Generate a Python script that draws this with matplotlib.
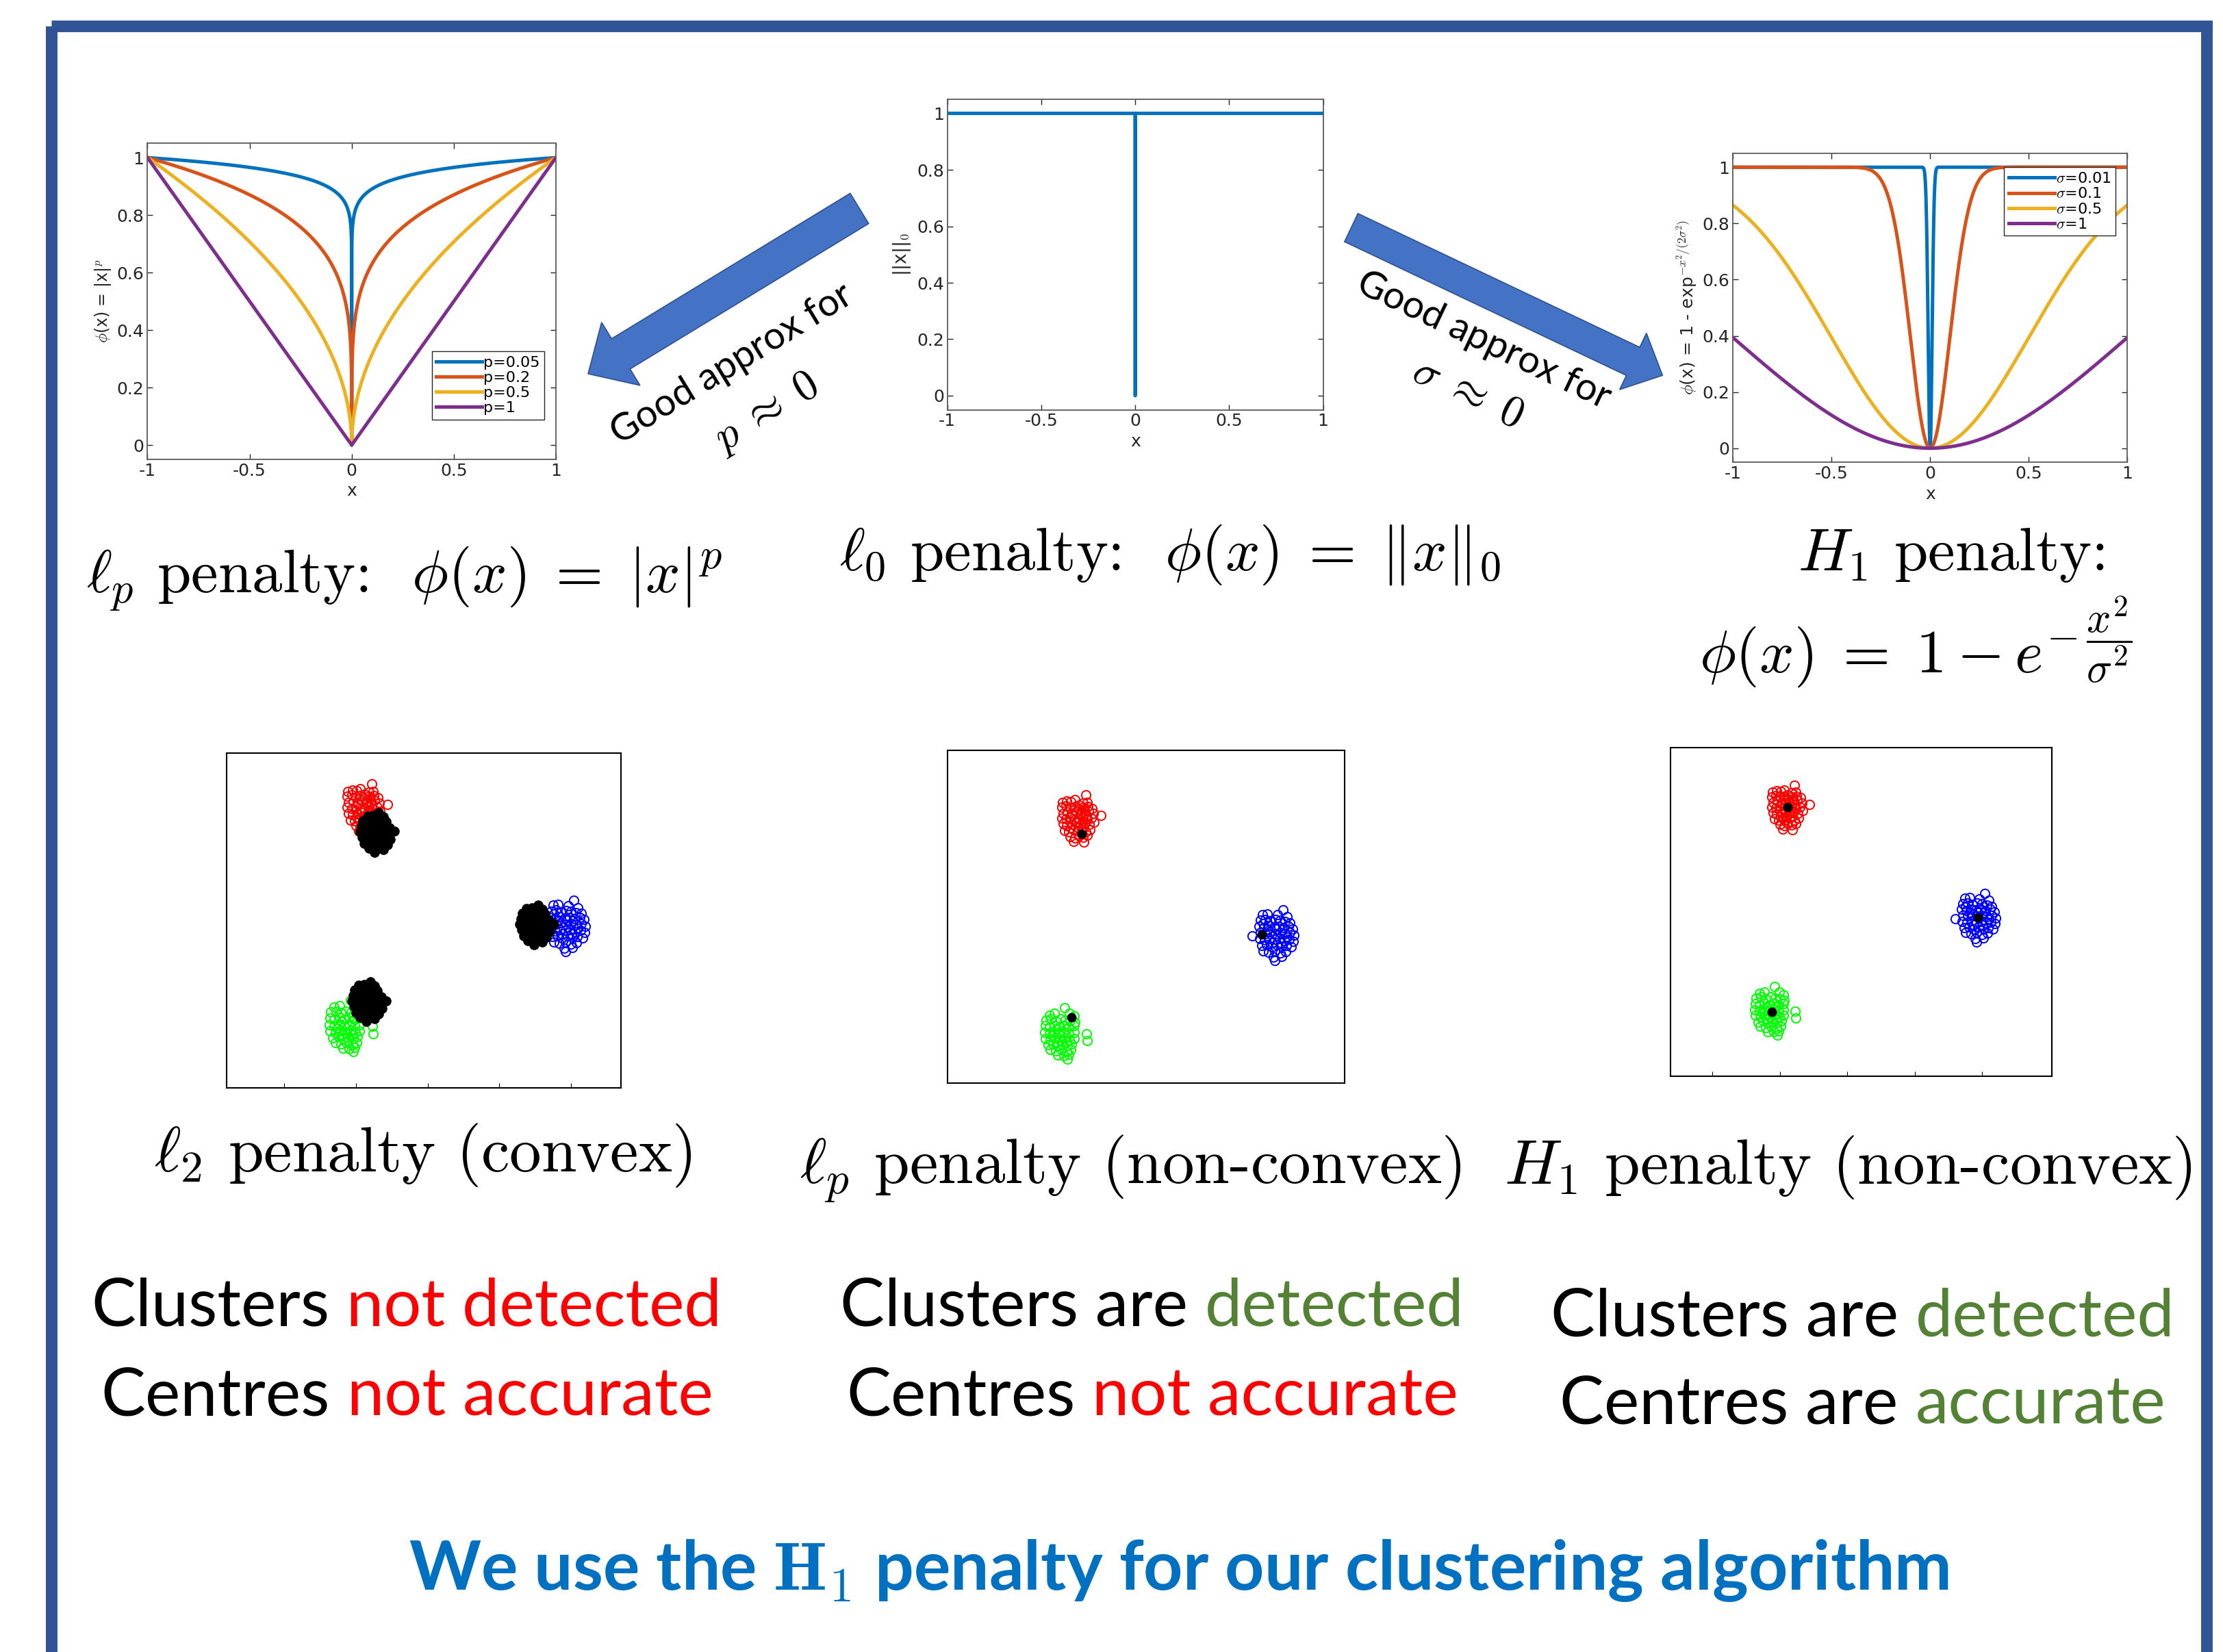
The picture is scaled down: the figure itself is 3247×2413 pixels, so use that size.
import numpy as np
import matplotlib
matplotlib.use('Agg')
import matplotlib.pyplot as plt
from matplotlib.patches import FancyArrow, Rectangle

plt.rcParams['mathtext.fontset'] = 'cm'

# --- penalty curves -------------------------------------------------------
p_values = [0.05, 0.2, 0.5, 1]
sigma_values = [0.01, 0.1, 0.5, 1]
line_colors = ['#0072BD', '#D95319', '#EDB120', '#7E2F8E']
tick_x = [-1, -0.5, 0, 0.5, 1]
tick_x_labels = ['-1', '-0.5', '0', '0.5', '1']
tick_y = [0, 0.2, 0.4, 0.6, 0.8, 1]
tick_y_labels = ['0', '0.2', '0.4', '0.6', '0.8', '1']

# --- synthetic clusters (offsets around each cluster centre) -------------
red_centre = (-4.4, 9.0)
blue_centre = (9.7, -0.7)
green_centre = (-5.6, -9.0)

red_offsets = [
    (0.5, 1.95), (-1.15, 1.35), (-0.85, 1.45), (-0.55, 1.4), (-0.3, 1.55), (0.3, 1.3), (0.6, 1.35),
    (-1.2, 0.95), (-0.9, 1.05), (-0.6, 0.9), (-0.3, 1.0), (0.0, 1.1), (0.3, 0.95), (0.65, 1.0), (0.95, 0.85),
    (-1.1, 0.45), (-0.8, 0.55), (-0.5, 0.4), (-0.2, 0.6), (0.1, 0.5), (0.4, 0.45), (0.7, 0.6), (1.05, 0.4),
    (-1.2, 0.05), (-0.9, -0.05), (-0.6, 0.1), (-0.3, -0.1), (0.0, 0.0), (0.3, 0.1), (0.6, -0.05), (0.9, 0.05),
    (1.6, 0.25), (-1.1, -0.45), (-0.85, -0.6), (-0.5, -0.5), (-0.2, -0.4), (0.1, -0.55), (0.4, -0.45),
    (0.75, -0.5), (1.1, -0.3), (-1.0, -1.0), (-0.7, -1.1), (-0.4, -0.95), (-0.1, -1.05), (0.2, -0.9),
    (0.5, -1.1), (0.8, -0.95), (-0.6, -1.5), (-0.3, -1.6), (0.0, -1.45), (0.3, -1.55), (0.6, -1.4),
    (-0.4, -1.9), (0.35, -1.95), (-0.45, 0.25), (0.15, 0.3), (0.5, 0.2), (-0.15, -0.25), (0.25, -0.3),
    (-0.6, -0.25), (0.0, 0.75), (-0.35, 0.7), (0.4, 0.75), (-0.05, -0.75), (0.35, -0.75), (-0.55, -0.8),
]
blue_offsets = [
    (0.5, 2.1), (-0.95, 1.7), (-0.6, 1.75), (0.1, 1.65), (0.8, 1.5),
    (-1.1, 1.2), (-0.75, 1.3), (-0.4, 1.15), (-0.05, 1.25), (0.3, 1.2), (0.65, 1.1), (1.0, 1.0),
    (-1.2, 0.7), (-0.85, 0.6), (-0.5, 0.75), (-0.15, 0.65), (0.2, 0.7), (0.55, 0.6), (0.9, 0.7), (1.2, 0.5),
    (-1.7, -0.1), (-1.1, 0.2), (-0.75, 0.1), (-0.4, 0.25), (-0.05, 0.1), (0.3, 0.2), (0.65, 0.05),
    (1.0, 0.2), (1.3, -0.05), (-1.15, -0.35), (-0.8, -0.45), (-0.45, -0.3), (-0.1, -0.4), (0.25, -0.35),
    (0.6, -0.5), (0.95, -0.4), (1.25, -0.55), (-1.0, -0.9), (-0.65, -0.85), (-0.3, -1.0), (0.05, -0.85),
    (0.4, -0.95), (0.75, -0.9), (1.1, -1.0), (-0.9, -1.35), (-0.5, -1.45), (-0.1, -1.35), (0.3, -1.5),
    (0.7, -1.4), (-0.2, -1.85), (0.4, -1.8), (-0.1, -2.15), (-0.6, 0.45), (0.0, 0.45), (0.45, 0.4),
    (-0.3, -0.65), (0.35, -0.65), (0.8, -0.2), (-0.9, 0.95),
]
green_offsets = [
    (0.2, 2.2), (-0.9, 1.6), (-0.55, 1.75), (0.55, 1.75), (0.85, 1.5),
    (-1.15, 1.2), (-0.8, 1.3), (-0.45, 1.15), (-0.1, 1.3), (0.25, 1.2), (0.6, 1.1), (0.9, 1.0),
    (-1.2, 0.7), (-0.9, 0.6), (-0.55, 0.75), (-0.2, 0.6), (0.15, 0.75), (0.5, 0.6), (0.85, 0.7),
    (-1.25, 0.15), (-0.9, 0.05), (-0.55, 0.2), (-0.2, 0.05), (0.15, 0.2), (0.5, 0.05), (0.85, 0.15),
    (1.75, 0.05), (-1.2, -0.35), (-0.85, -0.45), (-0.5, -0.3), (-0.15, -0.45), (0.2, -0.3), (0.55, -0.45),
    (0.85, -0.35), (1.8, -0.55), (-1.0, -0.9), (-0.65, -0.8), (-0.3, -0.95), (0.05, -0.85), (0.4, -0.95),
    (0.7, -0.8), (-0.85, -1.3), (-0.45, -1.4), (-0.05, -1.3), (0.35, -1.45), (0.65, -1.3),
    (-0.3, -1.75), (0.15, -1.8), (0.5, -1.7), (0.4, -2.05), (-0.4, 0.45), (0.3, 0.45), (-0.7, -0.1),
    (0.0, -0.6), (0.35, -0.65), (-0.35, -0.65),
]
# l2 fit: every point is pulled towards a shrunk centre
l2_offsets = [
    (0.2, 1.6), (-0.6, 1.3), (-0.2, 1.35), (0.5, 1.25),
    (-0.9, 0.9), (-0.5, 0.95), (-0.1, 0.85), (0.3, 0.95), (0.7, 0.85),
    (-1.0, 0.45), (-0.6, 0.4), (-0.2, 0.5), (0.2, 0.4), (0.6, 0.5), (0.95, 0.35),
    (-1.1, 0.0), (-0.7, -0.05), (-0.3, 0.05), (0.1, -0.05), (0.5, 0.05), (0.9, -0.1), (1.3, 0.05),
    (-0.95, -0.45), (-0.55, -0.5), (-0.15, -0.4), (0.25, -0.5), (0.65, -0.45), (1.0, -0.6),
    (-0.8, -0.95), (-0.4, -0.9), (0.0, -1.0), (0.4, -0.9), (0.8, -1.05),
    (-0.5, -1.35), (0.1, -1.4), (0.5, -1.45), (-0.1, -1.65),
]
l2_centres = [(-3.6, 7.0), (7.5, -0.6), (-4.2, -6.9)]
lp_centres = [(-4.2, 7.7), (8.7, -0.7), (-4.9, -7.6)]
h1_centres = [red_centre, blue_centre, green_centre]

W, H = 1568.0, 1165.0   # layout grid for placing panels and text


def rect(l, t, r, b):
    return [l / W, 1 - b / H, (r - l) / W, (b - t) / H]


def matlab_style(ax, fs=18):
    ax.set_xlim(-1, 1)
    ax.set_ylim(-0.05, 1.05)
    ax.set_xticks(tick_x)
    ax.set_xticklabels(tick_x_labels)
    ax.set_yticks(tick_y)
    ax.set_yticklabels(tick_y_labels)
    ax.tick_params(direction='in', top=True, right=True, length=6, width=1,
                   labelsize=fs, colors='#262626', labelcolor='#262626')
    for s in ax.spines.values():
        s.set_color('#5a5a5a')
        s.set_linewidth(1.3)
    ax.set_xlabel('x', fontsize=18, color='#262626')


fig = plt.figure(figsize=(32.48, 24.13), dpi=100)
bg = fig.add_axes([0, 0, 1, 1])
bg.set_xlim(0, W)
bg.set_ylim(H, 0)
bg.axis('off')

bg.add_patch(Rectangle((36, 18.5), 1520, 1200, fill=False, lw=12.2,
                       edgecolor='#2F5597'))

x = np.linspace(-1, 1, 4001)
leg_kw = dict(fontsize=16, handlelength=3, handletextpad=0.1, labelspacing=0.1,
              borderpad=0.3, fancybox=False, framealpha=1, edgecolor='#262626',
              borderaxespad=0)

# l_p penalty
ax = fig.add_axes(rect(104, 101, 392, 324))
for p, c in zip(p_values, line_colors):
    ax.plot(x, np.abs(x) ** p, color=c, lw=3.6, label='p=%g' % p)
matlab_style(ax)
ax.set_ylabel(r'$\phi$(x) = |x|$^p$', fontsize=17, color='#262626')
ax.legend(loc='lower right', bbox_to_anchor=(0.972, 0.126), **leg_kw)

# l_0 penalty
ax = fig.add_axes(rect(668, 70, 933, 289))
ax.plot(x, (x != 0).astype(float), color=line_colors[0], lw=3.6)
matlab_style(ax)
ax.set_ylabel(r'||x||$_0$', fontsize=19, color='#262626')

# H_1 penalty
ax = fig.add_axes(rect(1222, 108, 1500, 326))
for s, c in zip(sigma_values, line_colors):
    ax.plot(x, 1 - np.exp(-x ** 2 / (2 * s ** 2)), color=c, lw=3.6,
            label=r'$\sigma$=%g' % s)
matlab_style(ax)
ax.set_ylabel(r'$\phi$(x) = 1 - exp$^{-x^2/(2\sigma^2)}$', fontsize=18,
              color='#262626')
ax.legend(loc='upper right', bbox_to_anchor=(0.971, 0.954), **leg_kw)

# arrows between the penalty plots
arrow_kw = dict(length_includes_head=True, facecolor='#4472C4',
                edgecolor='#2F528F', lw=1.2)
bg.add_patch(FancyArrow(606, 147, -191.3, 116.6, width=25, head_width=52,
                        head_length=27, **arrow_kw))
bg.add_patch(FancyArrow(952.8, 160.5, 219.5, 104.2, width=22, head_width=44,
                        head_length=23, **arrow_kw))
bg.text(516, 257, 'Good approx for', rotation=31.4, fontsize=40,
        family='Lato', ha='center', va='center', rotation_mode='anchor')
bg.text(540, 291, r'$p\;\approx\;0$', rotation=31.4, fontsize=46,
        ha='center', va='center', rotation_mode='anchor')
bg.text(1046, 240, 'Good approx for', rotation=-25.4, fontsize=40,
        family='Lato', ha='center', va='center', rotation_mode='anchor')
bg.text(1035, 277, r'$\sigma\;\approx\;0$', rotation=-25.4, fontsize=46,
        ha='center', va='center', rotation_mode='anchor')

# formulas
big = dict(fontsize=64, family='cmr10', va='baseline')
eq = r'\;=\;'
bg.text(285, 418, r'$\ell_p$ penalty:  $\phi(x)' + eq + r'|x|^p$', ha='center', **big)
bg.text(825, 402, r'$\ell_0$ penalty:  $\phi(x)' + eq + r'\|x\|_0$', ha='center', **big)
bg.text(1376, 402, r'$H_1$ penalty:', ha='center', **big)
bg.text(1351, 474, r'$\phi(x)' + eq + r'1 - e^{-\,\dfrac{x^2}{\sigma^2}}$',
        ha='center', **big)

# cluster results
panels = [
    (rect(160, 531, 438, 767), (-14, 13.5), (-14, 13.5), True),
    (rect(668, 529, 948, 764), (-13.8, 14.6), (-13.1, 14.7), False),
    (rect(1178, 527, 1447, 759), (-13.1, 15.2), (-14.7, 14.3), True),
]
clusters = [(red_centre, red_offsets, '#FF0000'),
            (blue_centre, blue_offsets, '#0000FF'),
            (green_centre, green_offsets, '#00FF00')]

for k, (box, xl, yl, ticks) in enumerate(panels):
    ax = fig.add_axes(box)
    for (cx, cy), offs, col in clusters:
        dx, dy = np.array(offs).T
        ax.plot(cx + dx, cy + dy, 'o', ms=9.5, mfc='none', mec=col, mew=1.4)
    if k == 0:
        bx, by = np.array(l2_offsets).T
        for cx, cy in l2_centres:
            ax.plot(cx + bx, cy + by, 'o', ms=9.5, color='black')
    else:
        cen = lp_centres if k == 1 else h1_centres
        cx, cy = np.array(cen).T
        ax.plot(cx, cy, 'o', ms=9, color='black')
    ax.set_xlim(*xl)
    ax.set_ylim(*yl)
    ax.set_yticks([])
    if ticks:
        ax.set_xticks([-10, -5, 0, 5, 10])
        ax.tick_params(axis='x', direction='in', length=5, labelbottom=False)
    else:
        ax.set_xticks([])
    for s in ax.spines.values():
        s.set_linewidth(1.5)

cap = dict(fontsize=67, family='cmr10', va='baseline', ha='center')
bg.text(298, 826, r'$\ell_2$ penalty (convex)', **cap)
bg.text(797, 835, r'$\ell_p$ penalty (non-convex)', **cap)
bg.text(1303, 835, r'$H_1$ penalty (non-convex)', **cap)

# verdict lines, second half coloured
RED, GREEN = '#FF0000', '#548235'
verdicts = [
    (286.5, 935, 'Clusters', 'not detected', RED),
    (287.0, 998, 'Centres', 'not accurate', RED),
    (812.5, 935, 'Clusters are', 'detected', GREEN),
    (812.5, 998, 'Centres', 'not accurate', RED),
    (1313.5, 942, 'Clusters are', 'detected', GREEN),
    (1313.5, 1004, 'Centres are', 'accurate', GREEN),
]
renderer = fig.canvas.get_renderer()
scale = W / fig.bbox.width
txt_kw = dict(fontsize=70, family='Lato', va='baseline')
for xc, y, first, second, col in verdicts:
    probe = bg.text(0, y, first + ' ' + second, **txt_kw)
    full_w = probe.get_window_extent(renderer).width * scale
    probe.remove()
    bg.text(xc - full_w / 2, y, first, ha='left', **txt_kw)
    bg.text(xc + full_w / 2, y, second, ha='right', color=col, **txt_kw)

bg.text(831.5, 1121, r'We use the $\mathbf{H}_\mathbf{1}$ penalty for our clustering algorithm',
        fontsize=72, family='Lato', fontweight='bold', color='#0070C0',
        ha='center', va='baseline')

fig.savefig('out.png', dpi=100)
